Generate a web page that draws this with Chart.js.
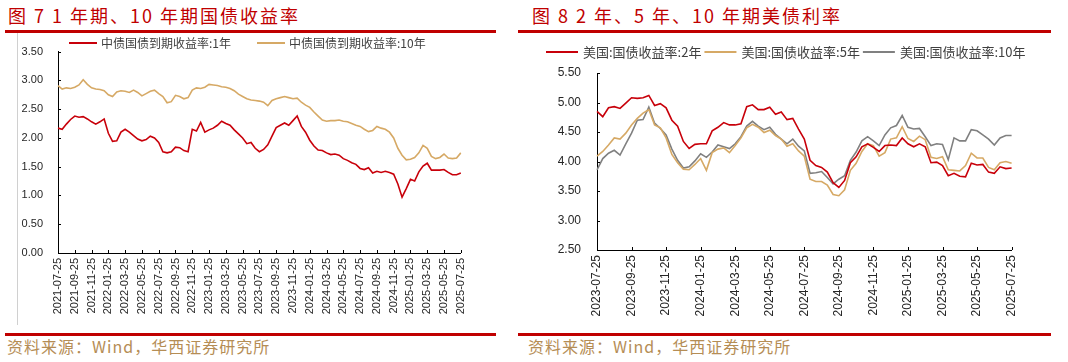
<!DOCTYPE html>
<html>
<head>
<meta charset="utf-8">
<script src="https://cdn.jsdelivr.net/npm/chart.js@4.4.1/dist/chart.umd.min.js"></script>
<style>
  body { margin: 0; width: 1068px; height: 362px; background: #fff; position: relative; overflow: hidden; font-family: 'Noto Sans CJK SC', sans-serif; }
  .title { position: absolute; top: 3px; font-size: 18px; line-height: 24px; letter-spacing: 2px; color: #c00000; white-space: nowrap; }
  .rule { position: absolute; height: 3px; background: #c00000; }
  .src { position: absolute; top: 336px; font-size: 16px; line-height: 20px; letter-spacing: 1px; color: #b58d55; white-space: nowrap; }
  .frame { position: absolute; left: 17px; top: 33px; width: 1px; height: 292px; background: #d0d0d0; }
  canvas { position: absolute; }
</style>
</head>
<body>
<div class="title" style="left:8px">图 7 1 年期、10 年期国债收益率</div>
<div class="rule" style="left:5px; top:30px; width:491px"></div>
<div class="frame"></div>
<canvas id="cn-chart" width="461" height="288" style="left:18px; top:30px"></canvas>
<div class="rule" style="left:5px; top:333px; width:491px"></div>
<div class="src" style="left:7px">资料来源：Wind，华西证券研究所</div>

<div class="title" style="left:532px">图 8 2 年、5 年、10 年期美债利率</div>
<div class="rule" style="left:518px; top:30px; width:533px"></div>
<canvas id="us-chart" width="501" height="289" style="left:530px; top:36px"></canvas>
<div class="rule" style="left:518px; top:333px; width:533px"></div>
<div class="src" style="left:528px">资料来源：Wind，华西证券研究所</div>

<script>
// ---- data: China government bond yields (semi-monthly reads, %) ----
const cnTicks = ['2021-07-25', '2021-09-25', '2021-11-25', '2022-01-25', '2022-03-25', '2022-05-25',
  '2022-07-25', '2022-09-25', '2022-11-25', '2023-01-25', '2023-03-25', '2023-05-25', '2023-07-25',
  '2023-09-25', '2023-11-25', '2024-01-25', '2024-03-25', '2024-05-25', '2024-07-25', '2024-09-25',
  '2024-11-25', '2025-01-25', '2025-03-25', '2025-05-25', '2025-07-25'];

const cn1y = [2.17, 2.15, 2.24, 2.32, 2.38, 2.36, 2.37, 2.33, 2.28, 2.24,
  2.28, 2.33, 2.08, 1.94, 1.95, 2.10, 2.15, 2.10, 2.04, 1.98,
  1.95, 1.97, 2.03, 2.00, 1.92, 1.76, 1.74, 1.76, 1.84, 1.83,
  1.78, 1.76, 2.15, 2.12, 2.27, 2.10, 2.14, 2.17, 2.22, 2.29,
  2.25, 2.22, 2.14, 2.07, 2.00, 1.90, 1.92, 1.82, 1.76, 1.80,
  1.88, 2.03, 2.18, 2.22, 2.26, 2.22, 2.30, 2.38, 2.20, 2.10,
  1.96, 1.86, 1.79, 1.78, 1.74, 1.71, 1.72, 1.70, 1.64, 1.61,
  1.57, 1.54, 1.47, 1.45, 1.48, 1.39, 1.42, 1.40, 1.42, 1.40,
  1.37, 1.20, 0.97, 1.12, 1.28, 1.25, 1.41, 1.51, 1.56, 1.44,
  1.44, 1.44, 1.45, 1.40, 1.36, 1.36, 1.39];

const cn10y = [2.91, 2.85, 2.87, 2.86, 2.88, 2.92, 3.01, 2.93, 2.87, 2.85,
  2.84, 2.82, 2.75, 2.72, 2.80, 2.82, 2.81, 2.79, 2.83, 2.79,
  2.73, 2.77, 2.81, 2.83, 2.77, 2.72, 2.61, 2.63, 2.74, 2.72,
  2.68, 2.70, 2.83, 2.87, 2.86, 2.88, 2.93, 2.92, 2.91, 2.89,
  2.88, 2.86, 2.82, 2.76, 2.72, 2.68, 2.66, 2.65, 2.64, 2.62,
  2.56, 2.65, 2.68, 2.70, 2.72, 2.70, 2.68, 2.69, 2.62, 2.57,
  2.53, 2.45, 2.38, 2.31, 2.29, 2.30, 2.30, 2.31, 2.29, 2.28,
  2.25, 2.22, 2.20, 2.15, 2.11, 2.13, 2.20, 2.17, 2.15, 2.10,
  2.00, 1.82, 1.70, 1.62, 1.63, 1.66, 1.74, 1.87, 1.82, 1.68,
  1.64, 1.66, 1.72, 1.65, 1.64, 1.65, 1.74];

// ---- data: US Treasury yields (reads on the 5th / 15th / 25th, %) ----
const usTicks = ['2023-07-25', '2023-09-25', '2023-11-25', '2024-01-25', '2024-03-25', '2024-05-25',
  '2024-07-25', '2024-09-25', '2024-11-25', '2025-01-25', '2025-03-25', '2025-05-25', '2025-07-25'];

const us2y = [4.85, 4.76, 4.91, 4.93, 4.90, 4.99, 5.08, 5.07, 5.08, 5.12,
  4.95, 4.98, 4.91, 4.70, 4.60, 4.34, 4.22, 4.29, 4.30, 4.30,
  4.52, 4.58, 4.66, 4.62, 4.62, 4.64, 4.93, 4.96, 4.88, 4.88,
  4.92, 4.80, 4.84, 4.71, 4.73, 4.55, 4.38, 4.02, 3.93, 3.90,
  3.82, 3.64, 3.56, 3.68, 3.98, 4.08, 4.25, 4.30, 4.24, 4.17,
  4.27, 4.28, 4.27, 4.40, 4.30, 4.25, 4.30, 4.25, 3.98, 3.99,
  3.93, 3.76, 3.80, 3.75, 3.74, 3.97, 3.94, 3.95, 3.82, 3.80,
  3.91, 3.88, 3.89];

const us5y = [4.09, 4.17, 4.28, 4.40, 4.38, 4.48, 4.62, 4.73, 4.82, 4.88,
  4.62, 4.57, 4.40, 4.12, 3.98, 3.87, 3.86, 3.95, 4.05, 3.85,
  4.15, 4.21, 4.23, 4.15, 4.27, 4.40, 4.57, 4.63, 4.58, 4.49,
  4.53, 4.44, 4.38, 4.26, 4.30, 4.18, 4.09, 3.70, 3.66, 3.66,
  3.60, 3.44, 3.42, 3.52, 3.85, 3.97, 4.17, 4.30, 4.27, 4.09,
  4.15, 4.38, 4.40, 4.59, 4.39, 4.34, 4.43, 4.37, 4.07, 4.05,
  4.08, 3.86, 3.85, 3.84, 3.93, 4.14, 4.06, 4.06, 3.90, 3.86,
  3.98, 4.00, 3.97];

const us10y = [3.86, 4.05, 4.14, 4.19, 4.11, 4.30, 4.48, 4.70, 4.71, 4.92,
  4.65, 4.56, 4.45, 4.21, 4.02, 3.89, 3.91, 4.01, 4.13, 4.07,
  4.16, 4.28, 4.25, 4.22, 4.30, 4.42, 4.60, 4.68, 4.60, 4.54,
  4.58, 4.46, 4.38, 4.30, 4.38, 4.26, 4.18, 3.80, 3.81, 3.83,
  3.73, 3.62, 3.70, 3.76, 4.02, 4.16, 4.35, 4.42, 4.35, 4.27,
  4.45, 4.57, 4.61, 4.78, 4.58, 4.55, 4.56, 4.42, 4.27, 4.30,
  4.29, 4.03, 4.40, 4.35, 4.35, 4.54, 4.52, 4.45, 4.38, 4.28,
  4.40, 4.44, 4.44];

const RED = '#c8000a';
const TAN = '#d6a965';
const GREY = '#808080';

/**
 * Build the category dates: given days of every month between two months,
 * trimmed to the first and last tick date
 */
function buildDates(first, last, days) {
  const out = [];
  let y = +first.slice(0, 4), m = +first.slice(5, 7);
  const y1 = +last.slice(0, 4), m1 = +last.slice(5, 7);
  while (y < y1 || (y === y1 && m <= m1)) {
    days.forEach(d => out.push(`${y}-${String(m).padStart(2, '0')}-${String(d).padStart(2, '0')}`));
    if (m === 12) { y++; m = 1; } else { m++; }
  }
  return out.filter(d => d >= first && d <= last);
}

// inward tick marks on both axes
const inwardTicks = {
  id: 'inwardTicks',
  afterDraw(chart, args, opts) {
    const { ctx, scales: { x, y } } = chart;
    ctx.save();
    ctx.strokeStyle = '#000';
    ctx.lineWidth = 1;
    ctx.beginPath();
    x.ticks.forEach((t, i) => {
      const px = Math.round(x.getPixelForTick(i)) + 0.5;
      ctx.moveTo(px, y.bottom);
      ctx.lineTo(px, y.bottom - opts.len);
    });
    y.ticks.forEach((t, i) => {
      const py = Math.round(y.getPixelForTick(i)) + 0.5;
      ctx.moveTo(x.left, py);
      ctx.lineTo(x.left + opts.len, py);
    });
    ctx.stroke();
    ctx.restore();
  }
};

// legend drawn as short line + label, placed freely
const lineLegend = {
  id: 'lineLegend',
  afterDraw(chart, args, o) {
    const ctx = chart.ctx;
    let x = o.x;
    ctx.save();
    ctx.font = o.font;
    ctx.textBaseline = 'middle';
    chart.data.datasets.forEach(ds => {
      ctx.strokeStyle = ds.borderColor;
      ctx.lineWidth = 2;
      ctx.beginPath();
      ctx.moveTo(x, o.y);
      ctx.lineTo(x + o.lineLen, o.y);
      ctx.stroke();
      const tx = x + o.lineLen + o.textGap;
      ctx.fillStyle = o.color;
      ctx.fillText(ds.label, tx, o.y);
      x = tx + ctx.measureText(ds.label).width + o.itemGap;
    });
    ctx.restore();
  }
};

function lineSet(label, data, color) {
  return { label, data, borderColor: color, backgroundColor: color, borderWidth: 1.6, pointRadius: 0, tension: 0, fill: false };
}

function makeChart(id, cfg) {
  return new Chart(document.getElementById(id), {
    type: 'line',
    data: { labels: cfg.labels, datasets: cfg.datasets },
    plugins: [inwardTicks, lineLegend],
    options: {
      responsive: false,
      animation: false,
      layout: { padding: cfg.padding },
      plugins: {
        legend: { display: false },
        tooltip: { enabled: false },
        inwardTicks: { len: 3 },
        lineLegend: cfg.legend
      },
      scales: {
        x: {
          type: 'category',
          grid: { display: false, drawTicks: false },
          border: { color: '#000', width: 1 },
          ticks: {
            autoSkip: false, minRotation: 90, maxRotation: 90, padding: 5,
            color: '#262626', font: { family: 'Liberation Sans', size: cfg.fontSize }
          },
          afterBuildTicks: scale => {
            const labels = scale.getLabels();
            scale.ticks = scale.ticks.filter(t => cfg.ticks.includes(labels[t.value]));
          },
          afterFit: scale => { scale.height = cfg.xHeight; }
        },
        y: {
          min: cfg.yMin, max: cfg.yMax,
          grid: { display: false, drawTicks: false },
          border: { color: '#000', width: 1 },
          ticks: {
            stepSize: 0.5, padding: cfg.yPad, color: '#262626',
            font: { family: 'Liberation Sans', size: cfg.fontSize },
            callback: v => v.toFixed(2)
          },
          afterFit: scale => { scale.width = cfg.yWidth; }
        }
      }
    }
  });
}

makeChart('cn-chart', {
  labels: buildDates('2021-07-25', '2025-07-25', [10, 25]),
  ticks: cnTicks,
  datasets: [lineSet('中债国债到期收益率:1年', cn1y, RED), lineSet('中债国债到期收益率:10年', cn10y, TAN)],
  padding: { top: 11, right: 10, bottom: 0, left: 0 },
  yMin: 0, yMax: 3.5, yWidth: 40, yPad: 15, xHeight: 65, fontSize: 11,
  legend: { x: 51, y: 13, lineLen: 28, textGap: 4, itemGap: 26, font: '12px "Noto Sans CJK SC"', color: '#404040' }
});

makeChart('us-chart', {
  labels: buildDates('2023-07-25', '2025-07-25', [5, 15, 25]),
  ticks: usTicks,
  datasets: [lineSet('美国:国债收益率:2年', us2y, RED), lineSet('美国:国债收益率:5年', us5y, TAN), lineSet('美国:国债收益率:10年', us10y, GREY)],
  padding: { top: 37, right: 12, bottom: 0, left: 0 },
  yMin: 2.5, yMax: 5.5, yWidth: 67, yPad: 16, xHeight: 75, fontSize: 12,
  legend: { x: 16, y: 16, lineLen: 32, textGap: 5, itemGap: 3, font: '13px "Noto Sans CJK SC"', color: '#404040' }
});
</script>
</body>
</html>
